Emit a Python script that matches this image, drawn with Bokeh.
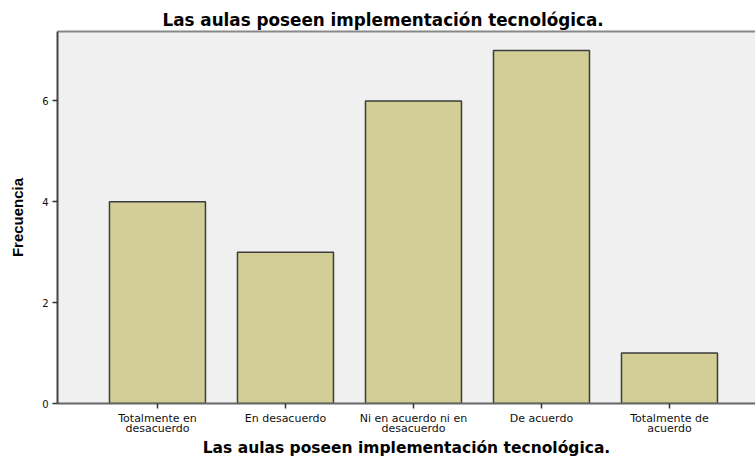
from bokeh.plotting import figure
from bokeh.models import Range1d, FixedTicker, LinearAxis, ColumnDataSource
from bokeh.embed import file_html
from bokeh.resources import INLINE

# ---- data ----
categories = ["Totalmente en\ndesacuerdo", "En desacuerdo", "Ni en acuerdo ni en\ndesacuerdo",
              "De acuerdo", "Totalmente de\nacuerdo"]
frequencies = [4, 3, 6, 7, 1]
y_ticks = [0, 2, 4, 6]
title_text = "Las aulas poseen implementación tecnológica."
x_label = "Las aulas poseen implementación tecnológica."
y_label = "Frecuencia"

positions = list(range(1, len(categories) + 1))
src = ColumnDataSource(dict(x=positions, top=frequencies))

p = figure(width=755, height=459, output_backend="svg", toolbar_location=None,
           x_range=Range1d(0.219, 5.672), y_range=Range1d(0, 7.376),
           min_border_left=57, min_border_right=0, min_border_top=31, min_border_bottom=0,
           background_fill_color="#F0F0F0", border_fill_color="white")

p.title.text = title_text
p.title.text_font = "DejaVu Sans"
p.title.text_font_style = "bold"
p.title.text_font_size = "16.8px"
p.title.align = "left"
p.title.offset = 105
p.title.standoff = 4
p.title.text_color = "#000000"

p.vbar(x="x", top="top", width=0.75, bottom=0, source=src,
       fill_color="#D3CE97", line_color="#3C3C3C", line_width=1.5)

p.grid.visible = False
p.outline_line_color = None

xa = p.below[0]
ya = p.left[0]

# top border line
top_axis = LinearAxis(ticker=FixedTicker(ticks=[]), axis_line_color="#888888", axis_line_width=2,
                      major_tick_line_color=None, minor_tick_line_color=None,
                      major_label_text_font_size="0px", major_label_standoff=0,
                      major_tick_out=0, major_tick_in=0)
p.add_layout(top_axis, "above")

xa.ticker = FixedTicker(ticks=positions)
xa.major_label_overrides = {pos: lab for pos, lab in zip(positions, categories)}
xa.major_label_text_font = "DejaVu Sans"
xa.major_label_text_font_size = "11px"
xa.major_label_text_color = "#111111"
xa.major_label_text_line_height = 0.8
xa.major_label_standoff = 3
xa.major_tick_out = 5
xa.major_tick_in = 0
xa.major_tick_line_color = "#333333"
xa.major_tick_line_width = 1.5
xa.minor_tick_line_color = None
xa.axis_line_color = "#666666"
xa.axis_line_width = 2
xa.axis_label = x_label
xa.axis_label_text_font = "DejaVu Sans"
xa.axis_label_text_font_style = "bold"
xa.axis_label_text_font_size = "15.5px"
xa.axis_label_standoff = 1
xa.axis_label_text_color = "#000000"

ya.ticker = FixedTicker(ticks=y_ticks)
ya.major_label_text_font = "DejaVu Sans"
ya.major_label_text_font_size = "10px"
ya.major_label_text_color = "#111111"
ya.major_label_standoff = 4
ya.major_tick_out = 5
ya.major_tick_in = 0
ya.major_tick_line_color = "#333333"
ya.major_tick_line_width = 1.5
ya.minor_tick_line_color = None
ya.axis_line_color = "#444444"
ya.axis_line_width = 2
ya.axis_label = y_label
ya.axis_label_text_font = "Liberation Sans"
ya.axis_label_text_font_style = "bold"
ya.axis_label_text_font_size = "15px"
ya.axis_label_standoff = 13
ya.axis_label_text_color = "#000000"

open("out.html", "w").write(file_html(p, INLINE))
